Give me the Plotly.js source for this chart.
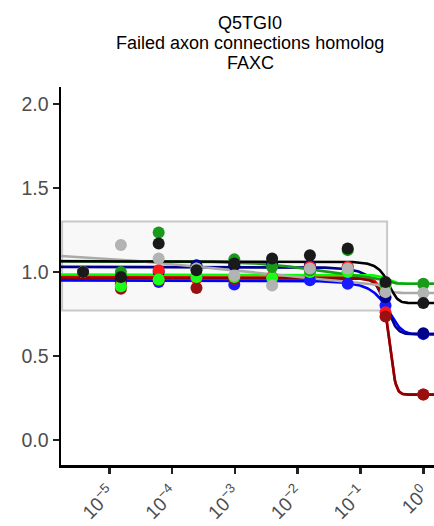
<!DOCTYPE html>
<html><head><meta charset="utf-8">
<script src="https://cdn.plot.ly/plotly-3.0.1.min.js"></script>
<style>html,body{margin:0;padding:0;overflow:hidden;background:#fff}</style>
</head><body><div id="chart" style="width:434px;height:526px"></div>
<script>
// ---- data ----
const titleLines = ["Q5TGI0", "Failed axon connections homolog", "FAXC"];
const concentrations = [3.815e-6, 1.526e-5, 6.104e-5, 2.441e-4, 9.766e-4, 3.906e-3, 0.015625, 0.0625, 0.25, 1];
const seriesNames = ["blue", "navy", "red", "darkred", "lime", "green", "grey", "black"];
const lineColors  = ["#0000ff", "#00008b", "#ff0000", "#8b0000", "#00ff00", "#1a9a1a", "#aaaaaa", "#000000"];
const pointColors = ["#1a1aff", "#00008b", "#ff1a1a", "#991010", "#1aff1a", "#1a9a1a", "#b3b3b3", "#1a1a1a"];
const valuesBlue    = [1.00, 0.93, 0.94, 0.97, 0.925, 0.96, 0.95, 0.93, 0.80, 0.63];
const valuesNavy    = [1.00, 0.95, 1.00, 1.04, 1.04, 1.05, 1.04, 1.03, 0.85, 0.635];
const valuesRed     = [1.00, 0.925, 1.01, 0.96, 0.96, 0.97, 1.03, 1.03, 0.76, 0.27];
const valuesDarkred = [1.00, 0.90, 0.95, 0.905, 0.96, 0.965, 1.00, 1.00, 0.735, 0.27];
const valuesLime    = [1.00, 0.915, 0.955, 0.97, 0.97, 0.965, 1.00, 1.00, 0.92, 0.925];
const valuesGreen   = [1.00, 1.00, 1.235, 1.02, 1.075, 1.03, 1.01, 1.13, 0.93, 0.93];
const valuesGrey    = [1.00, 1.16, 1.08, 1.02, 0.98, 0.92, 1.02, 1.02, 0.88, 0.875];
const valuesBlack   = [1.00, 0.97, 1.17, 1.01, 1.05, 1.08, 1.10, 1.14, 0.94, 0.815];
// fitted curve parameters (per series, same order)
const fitTop      = [0.966, 1.039, 0.975, 0.965, 0.985, 1.065, 1.126, 1.065];
const fitBottom   = [0.63, 0.63, 0.27, 0.27, 0.93, 0.93, 0.875, 0.815];
const fitMid      = [0.25, 0.233, 0.28, 0.28, 0.27, 0.26, 0.26, 0.27];
const fitRate     = [12, 16.5, 28, 27, 20, 25, 25, 19];
const driftSize   = [0, 0, 0, 0, 0, 0.12, 0.236, 0];
const driftCenter = [0, 0, 0, 0, 0, -1.6, -3, 0];
const driftSlope  = [1, 1, 1, 1, 1, 0.8, 0.3, 1];
const yTickVals = [0, 0.5, 1, 1.5, 2];
const yTickText = ["0.0", "0.5", "1.0", "1.5", "2.0"];
const xTickVals = [1e-5, 1e-4, 1e-3, 1e-2, 1e-1, 1];
const xTickText = ["10<sup>\u22125</sup>", "10<sup>\u22124</sup>", "10<sup>\u22123</sup>", "10<sup>\u22122</sup>", "10<sup>\u22121</sup>", "10<sup>0</sup>"];
const boxRight = 0.265, boxLow = 0.77, boxHigh = 1.3;

const allValues = [valuesBlue, valuesNavy, valuesRed, valuesDarkred, valuesLime, valuesGreen, valuesGrey, valuesBlack];

// ---- build ----
const xRange = [-5.77, 0.17];
const yRange = [-0.149, 2.101];
const font = "Liberation Sans, Arial, Helvetica, sans-serif";

function fitCurve(i, x) {
  const u = Math.log10(x);
  const g = 1 / (1 + Math.pow(10, -(u - driftCenter[i]) * driftSlope[i]));
  const top = fitTop[i] - driftSize[i] * g;
  const L = 1 / (1 + Math.exp(fitRate[i] * (x - fitMid[i])));
  return fitBottom[i] + (top - fitBottom[i]) * L;
}
const grid = [];
for (let j = 0; j <= 400; j++) grid.push(Math.pow(10, xRange[0] + (xRange[1] - xRange[0]) * j / 400));

const traces = [];
seriesNames.forEach((n, i) => {
  traces.push({x: grid, y: grid.map(x => fitCurve(i, x)), mode: 'lines', name: n + ' fit',
    line: {color: lineColors[i], width: 2.6}, hoverinfo: 'skip', showlegend: false, cliponaxis: false});
});
seriesNames.forEach((n, i) => {
  traces.push({x: concentrations, y: allValues[i], mode: 'markers', name: n,
    marker: {color: pointColors[i], size: 12}, showlegend: false, cliponaxis: false});
});

const plotTop = 87, plotBottom = 465, plotH = plotBottom - plotTop;
const titleY = [23, 43, 63];
const annotations = titleLines.map((t, k) => ({
  text: t, xref: 'paper', yref: 'paper', x: (250 - 61) / 373, y: (plotBottom - titleY[k]) / plotH,
  xanchor: 'center', yanchor: 'middle', showarrow: false, font: {family: font, size: 18, color: '#000'}
}));

const layout = {
  width: 434, height: 526,
  margin: {l: 61, r: 0, t: plotTop, b: 526 - plotBottom, pad: 0},
  paper_bgcolor: '#fff', plot_bgcolor: '#fff',
  showlegend: false,
  annotations: annotations,
  xaxis: {type: 'log', range: xRange, tickvals: xTickVals, ticktext: xTickText, tickangle: -45,
    showgrid: false, zeroline: false, showline: true, linecolor: '#000', linewidth: 2.5,
    ticks: 'outside', ticklen: 6, tickwidth: 2.5, tickcolor: '#222', ticklabelstandoff: 1,
    tickfont: {family: font, size: 19, color: '#4d4d4d'}},
  yaxis: {range: yRange, tickvals: yTickVals, ticktext: yTickText,
    showgrid: false, zeroline: false, showline: true, linecolor: '#000', linewidth: 2.5,
    ticks: 'outside', ticklen: 6, tickwidth: 2.5, tickcolor: '#222',
    tickfont: {family: font, size: 19.5, color: '#4d4d4d'}},
  shapes: [{type: 'rect', layer: 'below', xref: 'paper', yref: 'y',
    x0: 0.003, x1: (Math.log10(boxRight) - xRange[0]) / (xRange[1] - xRange[0]),
    y0: boxLow, y1: boxHigh, fillcolor: '#f8f8f8', line: {color: '#c8c8c8', width: 2}}]
};
Plotly.newPlot('chart', traces, layout, {displayModeBar: false, staticPlot: true});
</script></body></html>
